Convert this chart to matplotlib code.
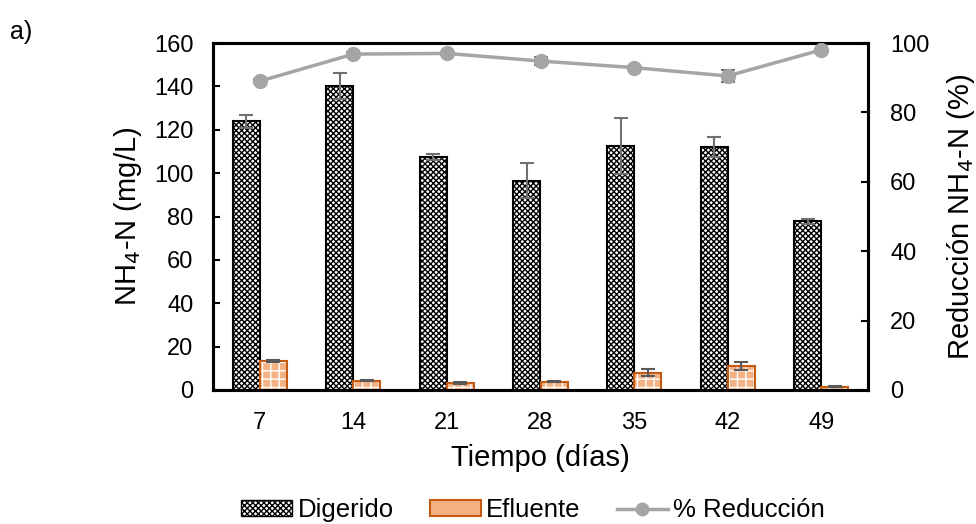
import matplotlib
matplotlib.use("Agg")
import matplotlib.pyplot as plt
import numpy as np
from matplotlib.lines import Line2D
from matplotlib.patches import Patch

plt.rcParams['font.family'] = ['Liberation Sans', 'DejaVu Sans']
plt.rcParams['hatch.linewidth'] = 1.0

days = ["7", "14", "21", "28", "35", "42", "49"]
digerido = [124.0, 140.0, 107.5, 96.5, 112.6, 112.1, 77.7]
digerido_err = [3.0, 6.0, 1.5, 8.0, 13.0, 4.7, 1.2]
efluente = [13.5, 4.3, 3.1, 3.8, 8.0, 11.1, 1.5]
efluente_err = [0.5, 0.3, 0.5, 0.3, 1.5, 1.7, 0.3]
reduccion = [89.0, 96.8, 97.0, 94.8, 92.9, 90.5, 98.0]
reduccion_err = [0.5, 0.5, 0.5, 1.2, 0.5, 1.6, 0.3]

fig = plt.figure(figsize=(9.76, 5.24), dpi=100)
ax = fig.add_axes([213/976, 1-390/524, 655/976, 347/524])
ax2 = ax.twinx()

x = np.arange(len(days)) + 0.5
w = 0.29

ax.bar(x - w/2, digerido, w, facecolor='white', edgecolor='black', hatch='xxxxxx', linewidth=1.5, zorder=2)
ax.errorbar(x - w/2, digerido, yerr=digerido_err, fmt='none', ecolor='#707070', elinewidth=1.5, capsize=5, capthick=1.5, zorder=3)

ax.bar(x + w/2, efluente, w, facecolor='#F4B183', edgecolor='white', hatch='++', linewidth=0, zorder=2)
ax.bar(x + w/2, efluente, w, facecolor='none', edgecolor='#C55A11', linewidth=1.5, zorder=2.5)
ax.errorbar(x + w/2, efluente, yerr=efluente_err, fmt='none', ecolor='#595959', elinewidth=1.5, capsize=5, capthick=1.5, zorder=3)

ax2.errorbar(x, reduccion, yerr=reduccion_err, color='#A5A5A5', ecolor='#707070', lw=2.5,
             marker='o', markersize=10, capsize=5, capthick=1.5, elinewidth=1.5, zorder=4)

ax.set_xlim(0, 7)
ax.set_ylim(0, 160)
ax2.set_ylim(0, 100)
ax.set_yticks(np.arange(0, 161, 20))
ax2.set_yticks(np.arange(0, 101, 20))
ax.set_xticks(x)
ax.set_xticklabels(days)

for a in (ax, ax2):
    for s in a.spines.values():
        s.set_linewidth(2.2)
        s.set_color('black')
ax.tick_params(axis='y', direction='in', length=5, width=1.5, labelsize=17, pad=14)
ax2.tick_params(axis='y', direction='in', length=5, width=1.5, labelsize=17, pad=16)
ax.tick_params(axis='x', length=0, labelsize=17, pad=16)

ax.set_ylabel('NH$_4$-N (mg/L)', fontsize=21)
ax2.set_ylabel('Reducción NH$_4$-N (%)', fontsize=21)
ax.set_xlabel('Tiempo (días)', fontsize=21)
ax.yaxis.set_label_coords(-0.105, 0.5)
ax2.yaxis.set_label_coords(1.118, 0.5)
ax.xaxis.set_label_coords(0.5, -0.157)

fig.text(10/976, 1-32/524, 'a)', fontsize=18, va='center', ha='left')

handles = [
    Patch(facecolor='white', edgecolor='black', hatch='xxxxxx', linewidth=1.0),
    Patch(facecolor='#F4B183', edgecolor='#C55A11', linewidth=1.5),
    Line2D([0], [0], color='#A5A5A5', lw=2.5, marker='o', markersize=9),
]
fig.legend(handles, ['Digerido', 'Efluente', '% Reducción'], loc='center', bbox_to_anchor=(533/976, 1-510/524),
           ncol=3, frameon=False, fontsize=18.5, handlelength=2.0, handleheight=0.55, handletextpad=0.2, columnspacing=1.4)

fig.savefig('out.png', dpi=100)
